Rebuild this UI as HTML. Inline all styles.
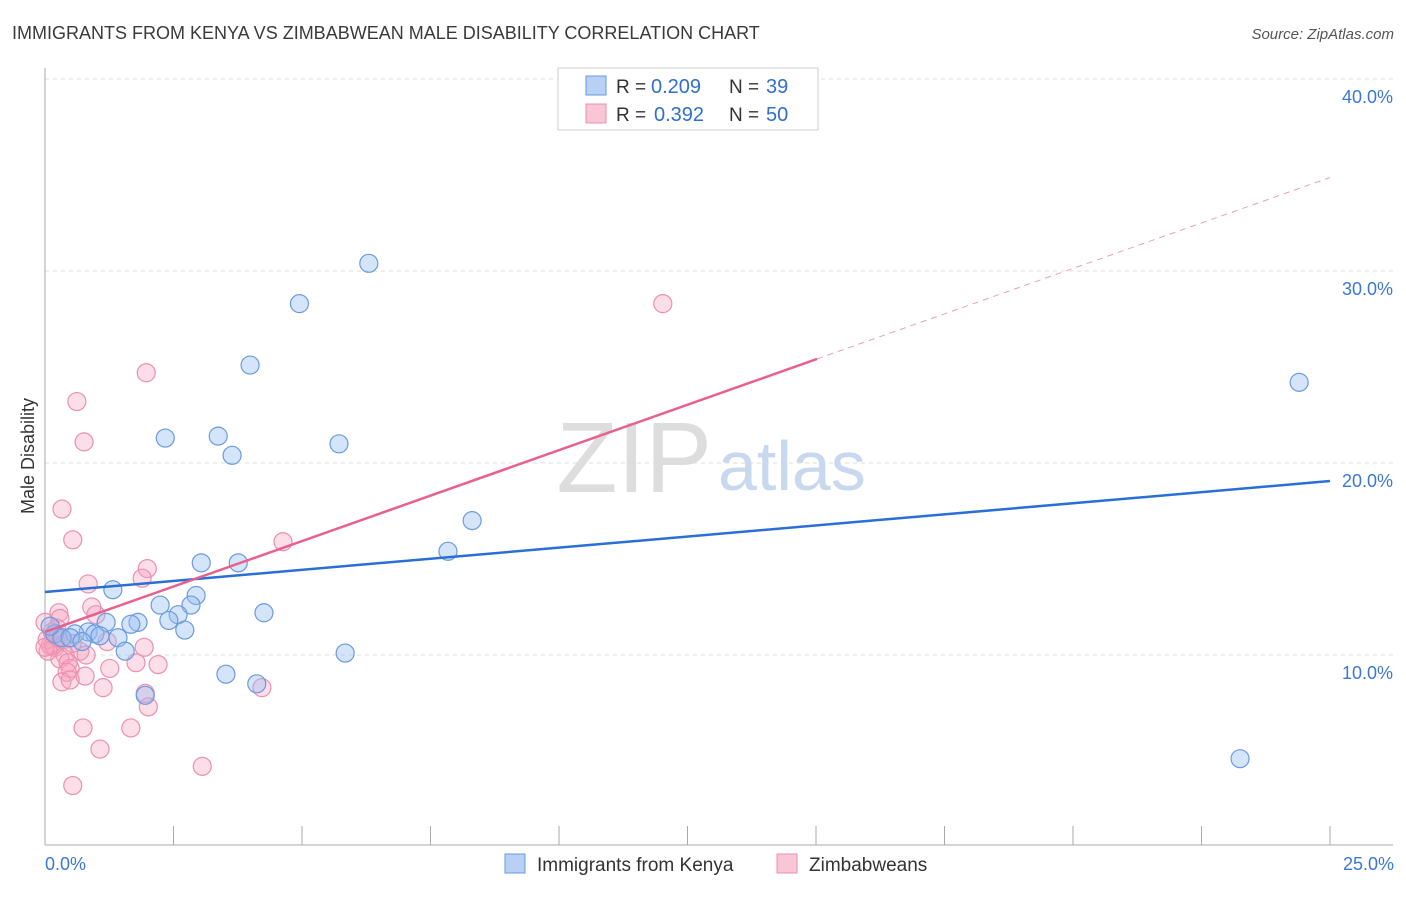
<!DOCTYPE html>
<html><head><meta charset="utf-8"><style>
body{margin:0;background:#fff;font-family:"Liberation Sans",sans-serif}
svg text{font-family:"Liberation Sans",sans-serif}
</style></head><body>
<svg width="1406" height="892" xmlns="http://www.w3.org/2000/svg">
<text x="12" y="39" font-size="18" fill="#3a3a3a">IMMIGRANTS FROM KENYA VS ZIMBABWEAN MALE DISABILITY CORRELATION CHART</text>
<text x="1394" y="39" font-size="15" fill="#555" text-anchor="end" font-style="italic">Source: ZipAtlas.com</text>
<g id="grid"></g>
<text x="712" y="492" font-size="100" fill="#ddd" text-anchor="end" font-family="Liberation Serif">ZIP</text>
<text x="718" y="490" font-size="70" fill="#c8d8ef">atlas</text>
<text x="34" y="456" font-size="18" fill="#333" text-anchor="middle" transform="rotate(-90 34 456)">Male Disability</text>
<g id="pts"></g>
<g id="lines"></g>
<g>
<rect x="558" y="68" width="260" height="62" fill="#fff" stroke="#ccc"/>
<rect x="586" y="76" width="20" height="19" fill="#b7d0f3" stroke="#6a9ae0"/>
<rect x="586" y="104" width="20" height="19" fill="#f9c6d6" stroke="#ec8fb0"/>
<text x="616" y="93" font-size="19" fill="#333">R =</text>
<text x="651" y="93" font-size="20" fill="#2f6fce">0.209</text>
<text x="729" y="93" font-size="19" fill="#333">N =</text>
<text x="766" y="93" font-size="20" fill="#2f6fce">39</text>
<text x="616" y="121" font-size="19" fill="#333">R =</text>
<text x="654" y="121" font-size="20" fill="#2f6fce">0.392</text>
<text x="729" y="121" font-size="19" fill="#333">N =</text>
<text x="766" y="121" font-size="20" fill="#2f6fce">50</text>
</g>
<g>
<rect x="505" y="854" width="20" height="19" fill="#b7d0f3" stroke="#6a9ae0"/>
<text x="537" y="871" font-size="19" fill="#333">Immigrants from Kenya</text>
<rect x="777" y="854" width="20" height="19" fill="#f9c6d6" stroke="#ec8fb0"/>
<text x="809" y="871" font-size="19" fill="#333">Zimbabweans</text>
</g>
<text x="45" y="870" font-size="18" fill="#3b78d6">0.0%</text>
<text x="1394" y="870" font-size="18" fill="#3b78d6" text-anchor="end">25.0%</text>
</svg>
<script>
const yTicks=[10,20,30,40];
const blueX=[6.3,4.95,3.99,24.4,2.34,3.37,3.64,5.72,8.31,7.84,3.04,3.76,1.32,2.94,2.24,2.84,1.81,1.67,2.59,2.41,4.26,2.72,1.19,0.84,0.97,0.58,0.19,0.33,0.49,1.42,1.56,5.84,3.52,4.12,1.95,23.25,0.1,1.07,0.72];
const blueY=[30.4,28.3,25.1,24.2,21.3,21.4,20.4,21.0,17.0,15.4,14.8,14.8,13.4,13.1,12.6,12.6,11.7,11.6,12.1,11.8,12.2,11.3,11.7,11.2,11.1,11.1,11.1,10.9,10.9,10.9,10.2,10.1,9.0,8.5,7.9,4.6,11.5,11.0,10.7];
const pinkX=[12.02,1.97,0.62,0.76,0.33,0.54,4.63,1.99,1.89,0.84,0.91,0.99,0.27,0.29,0,1.93,1.21,0.68,0.1,0.19,0.04,0.39,0.29,0.45,0.49,0.43,0.78,1.77,2.2,0.33,0.49,1.13,4.22,1.95,2.01,1.67,0.74,1.07,3.06,0.54,0.16,0.25,0.06,0.35,0.53,0.14,0.23,0.8,1.26,0];
const pinkY=[28.3,24.7,23.2,21.1,17.6,16.0,15.9,14.5,14.0,13.7,12.5,12.1,12.2,11.9,11.7,10.4,10.7,10.2,10.5,10.4,10.8,10.0,9.8,9.6,9.3,9.1,8.9,9.6,9.5,8.6,8.7,8.3,8.3,8.0,7.3,6.2,6.2,5.1,4.2,3.2,10.5,10.9,10.2,10.8,10.6,11.2,11.4,10.0,9.3,10.4];
const X0=45,X1=1330,Y0=847,PX=19.2;
const sx=v=>X0+(v/25)*(X1-X0), sy=v=>Y0-v*PX;
const NS="http://www.w3.org/2000/svg";
function mk(tag,attrs,parent){const e=document.createElementNS(NS,tag);for(const k in attrs)e.setAttribute(k,attrs[k]);parent.appendChild(e);return e;}
const grid=document.getElementById('grid');
yTicks.forEach(t=>{
 const l=mk('line',{x1:45,x2:1393,y1:sy(t),y2:sy(t),stroke:'#ddd','stroke-dasharray':'4,4'},grid);
 
 
 const tx=mk('text',{x:1393,y:sy(t)+24,'font-size':18,fill:'#3b78d6','text-anchor':'end'},grid);
 tx.textContent=t.toFixed(1)+'%';
 
 
});
mk('line',{x1:45,x2:45,y1:68,y2:845,stroke:'#aaa'},grid);
mk('line',{x1:45,x2:1393,y1:845,y2:845,stroke:'#aaa'},grid);
for(let i=1;i<=10;i++){const x=sx(i*2.5);mk('line',{x1:x,x2:x,y1:826,y2:845,stroke:'#aaa'},grid);}
const pts=document.getElementById('pts');
pinkX.forEach((v,i)=>{const c=mk('circle',{cx:sx(v),cy:sy(pinkY[i]),r:9,fill:'rgba(245,160,190,0.35)',stroke:'#ec8fb0','stroke-width':1.2},pts);
 
 });
blueX.forEach((v,i)=>{const c=mk('circle',{cx:sx(v),cy:sy(blueY[i]),r:9,fill:'rgba(150,190,240,0.4)',stroke:'#6a9ae0','stroke-width':1.2},pts);
 
 });
const lines=document.getElementById('lines');
const bf=[13.28,(19.06-13.28)/25], pf=[11.2,(25.42-11.2)/15.02];
const bl=mk('line',{x1:sx(0),y1:sy(bf[0]),x2:sx(25),y2:sy(bf[0]+25*bf[1]),stroke:'#2a6fd6','stroke-width':2.5},lines);


const pl=mk('line',{x1:sx(0),y1:sy(pf[0]),x2:sx(15.02),y2:sy(pf[0]+15.02*pf[1]),stroke:'#e8608e','stroke-width':2.5},lines);


const pd=mk('line',{x1:sx(15.02),y1:sy(pf[0]+15.02*pf[1]),x2:sx(25),y2:sy(pf[0]+25*pf[1]),stroke:'#e8a0b8','stroke-width':1,'stroke-dasharray':'6,5'},lines);


</script>
</body></html>
